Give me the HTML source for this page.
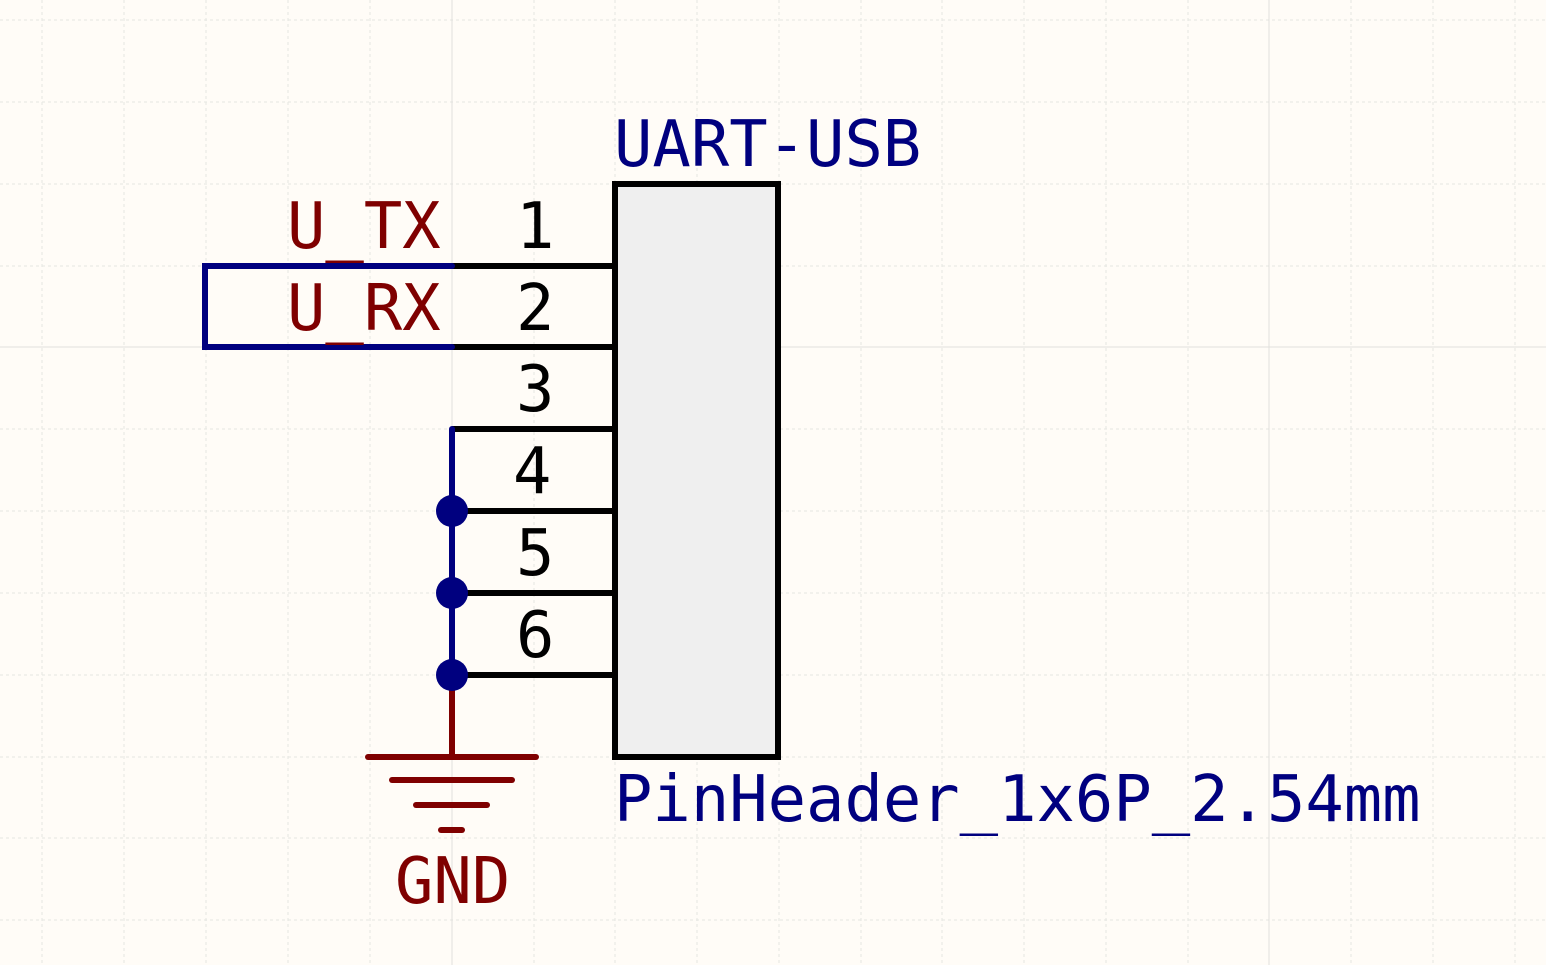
<!DOCTYPE html>
<html><head><meta charset="utf-8"><style>
html,body{margin:0;padding:0;background:#fffcf7;}
svg{display:block;}
text{font-family:"DejaVu Sans Mono","Liberation Mono",monospace;font-size:63.8px;}
</style></head><body>
<svg width="1546" height="965" viewBox="0 0 1546 965" xmlns="http://www.w3.org/2000/svg">
<rect width="1546" height="965" fill="#fffcf7"/>
<g stroke="#e6e6e2" stroke-width="1" stroke-dasharray="3,3">
<line x1="42" y1="0" x2="42" y2="965"/><line x1="124" y1="0" x2="124" y2="965"/><line x1="206" y1="0" x2="206" y2="965"/><line x1="288" y1="0" x2="288" y2="965"/><line x1="370" y1="0" x2="370" y2="965"/><line x1="534" y1="0" x2="534" y2="965"/><line x1="615" y1="0" x2="615" y2="965"/><line x1="697" y1="0" x2="697" y2="965"/><line x1="779" y1="0" x2="779" y2="965"/><line x1="861" y1="0" x2="861" y2="965"/><line x1="942" y1="0" x2="942" y2="965"/><line x1="1024" y1="0" x2="1024" y2="965"/><line x1="1106" y1="0" x2="1106" y2="965"/><line x1="1188" y1="0" x2="1188" y2="965"/><line x1="1351" y1="0" x2="1351" y2="965"/><line x1="1433" y1="0" x2="1433" y2="965"/><line x1="1515" y1="0" x2="1515" y2="965"/>
<line x1="0" y1="20" x2="1546" y2="20"/><line x1="0" y1="102" x2="1546" y2="102"/><line x1="0" y1="184" x2="1546" y2="184"/><line x1="0" y1="266" x2="1546" y2="266"/><line x1="0" y1="429" x2="1546" y2="429"/><line x1="0" y1="511" x2="1546" y2="511"/><line x1="0" y1="593" x2="1546" y2="593"/><line x1="0" y1="675" x2="1546" y2="675"/><line x1="0" y1="757" x2="1546" y2="757"/><line x1="0" y1="838" x2="1546" y2="838"/><line x1="0" y1="920" x2="1546" y2="920"/>
</g>
<g stroke="#e0e0dc" stroke-width="1">
<line x1="452" y1="0" x2="452" y2="965"/><line x1="1269" y1="0" x2="1269" y2="965"/><line x1="0" y1="347" x2="1546" y2="347"/>
</g>
<rect x="615" y="184" width="163" height="573" fill="#efefef" stroke="#000" stroke-width="6"/>
<g stroke="#000" stroke-width="6">
<line x1="452" y1="266" x2="615" y2="266"/><line x1="452" y1="347" x2="615" y2="347"/><line x1="452" y1="429" x2="615" y2="429"/><line x1="452" y1="511" x2="615" y2="511"/><line x1="452" y1="593" x2="615" y2="593"/><line x1="452" y1="675" x2="615" y2="675"/>
</g>
<g stroke="#7f0000" stroke-width="6" stroke-linecap="round">
<line x1="452" y1="675" x2="452" y2="757"/>
<line x1="368" y1="757" x2="536" y2="757"/><line x1="392" y1="780" x2="512" y2="780"/><line x1="416" y1="805" x2="487" y2="805"/><line x1="441" y1="830" x2="462" y2="830"/>
</g>
<g stroke="#00007f" stroke-width="6" fill="none" stroke-linecap="round">
<polyline points="452,266 205,266 205,347 452,347"/>
<line x1="452" y1="429" x2="452" y2="675"/>
</g>
<g fill="#00007f"><circle cx="452" cy="511" r="16"/><circle cx="452" cy="593" r="16"/><circle cx="452" cy="675" r="16"/></g>
<g fill="#7f0000">
<text x="287" y="248">U_TX</text>
<text x="287" y="330">U_RX</text>
<text x="395" y="903">GND</text>
</g>
<g fill="#000">
<text x="516" y="248">1</text><text x="516" y="330">2</text><text x="516" y="411">3</text><text x="513" y="493">4</text><text x="516" y="575">5</text><text x="516" y="657">6</text>
</g>
<g fill="#00007f">
<text x="614" y="166">UART-USB</text>
<text x="614" y="821">PinHeader_1x6P_2.54mm</text>
</g>
</svg>
</body></html>
